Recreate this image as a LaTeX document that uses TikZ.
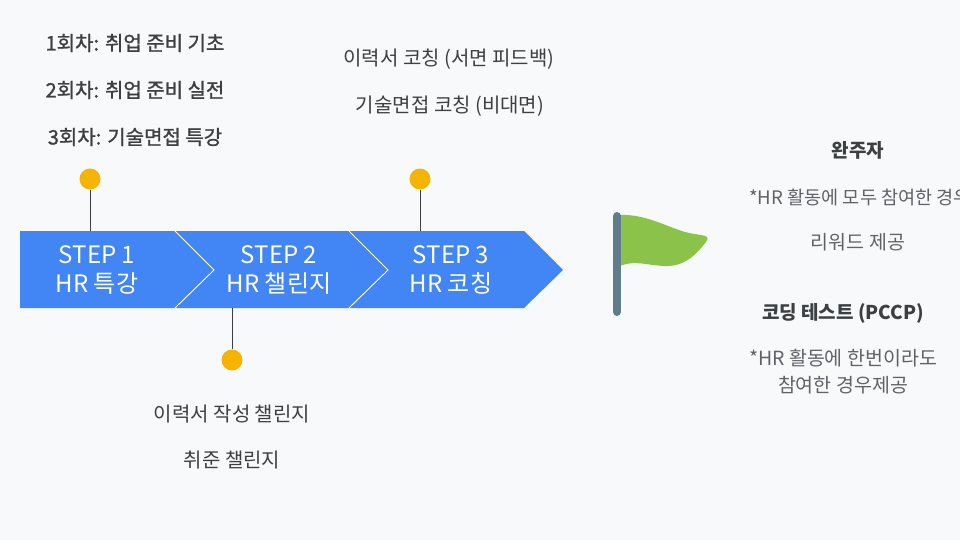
\documentclass[tikz,border=0pt]{standalone}
\usepackage{fontspec}
\setmainfont{Noto Sans CJK KR}
\newfontfamily\medfont{Noto Sans CJK KR}[FakeBold=1.2]
\definecolor{bgc}{HTML}{F8F9FA}
\definecolor{bluec}{HTML}{4285F4}
\definecolor{dotc}{HTML}{F4B400}
\definecolor{linec}{HTML}{3C4043}
\definecolor{txtc}{HTML}{3C4043}
\definecolor{subc}{HTML}{5F6368}
\definecolor{flagc}{HTML}{8BC34A}
\definecolor{polec}{HTML}{607D8B}
\begin{document}
\begin{tikzpicture}[x=1pt,y=-1pt,
  dot/.style={circle,fill=dotc,minimum size=21pt,inner sep=0pt},
  stem/.style={draw=linec,line width=1pt},
  steptext/.style={text=white,align=center,font=\fontsize{24}{29}\selectfont,inner sep=0pt},
  lbl/.style={text=txtc,font=\fontsize{20}{24}\selectfont,inner sep=0pt},
  lblm/.style={text=txtc,font=\fontsize{20}{24}\medfont,inner sep=0pt},
  lblb/.style={text=txtc,font=\fontsize{19}{24}\selectfont\bfseries,inner sep=0pt},
  sub/.style={text=subc,font=\fontsize{19.5}{27}\selectfont,inner sep=0pt,align=center}]
\useasboundingbox (0,0) rectangle (960,540);
\clip (0,0) rectangle (960,540);
\fill[bgc] (0,0) rectangle (960,540);
% arrow band
\fill[bluec] (20,231) -- (524,231) -- (563,270) -- (524,308) -- (20,308) -- cycle;
\draw[white,line width=0.9pt] (175,231) -- (214,270) -- (175,308);
\draw[white,line width=0.9pt] (349,231) -- (388,270) -- (349,308);
% step texts
\node[steptext] (s1) at (97,270) {STEP 1\\HR 특강};
\node[steptext] (s2) at (279,270) {STEP 2\\HR 챌린지};
\node[steptext] (s3) at (451,270) {STEP 3\\HR 코칭};
% dots and stems
\coordinate (a1) at (90,231);
\coordinate (a2) at (232,308);
\coordinate (a3) at (420,231);
\node[dot] (d1) at (90,179) {};
\node[dot] (d2) at (232,360) {};
\node[dot] (d3) at (420,179) {};
\draw[stem] (d1) -- (a1);
\draw[stem] (d2) -- (a2);
\draw[stem] (d3) -- (a3);
% top-left labels
\node[lblm] (t1) at (135,43) {1회차: 취업 준비 기초};
\node[lblm] (t2) at (135,90) {2회차: 취업 준비 실전};
\node[lblm] (t3) at (135,137) {3회차: 기술면접 특강};
% top-right labels
\node[lbl] (r1) at (449,59) {이력서 코칭 (서면 피드백)};
\node[lbl] (r2) at (450,106) {기술면접 코칭 (비대면)};
% bottom labels
\node[lbl] (b1) at (232,414) {이력서 작성 챌린지};
\node[lbl] (b2) at (232,460) {취준 챌린지};
% flag
\fill[flagc] (620,215) .. controls (645,214) and (665,226) .. (685,232)
  .. controls (700,236) and (712,234) .. (706,242)
  .. controls (696,255) and (684,267) .. (664,266)
  .. controls (645,265) and (635,260) .. (620,266) -- cycle;
\draw[polec,line width=8pt,line cap=round] (617,216) -- (617,312);
% right texts
\node[lblb] (f1) at (858,150) {완주자};
\node[sub,anchor=west,font=\fontsize{18.6}{27}\selectfont] (f2) at (749,197) {*HR 활동에 모두 참여한 경우};
\node[sub] (f3) at (858,242) {리워드 제공};
\node[lblb] (f4) at (843,313) {코딩 테스트 (PCCP)};
\node[sub] (f5) at (843,372) {*HR 활동에 한번이라도\\참여한 경우제공};
\end{tikzpicture}
\end{document}
